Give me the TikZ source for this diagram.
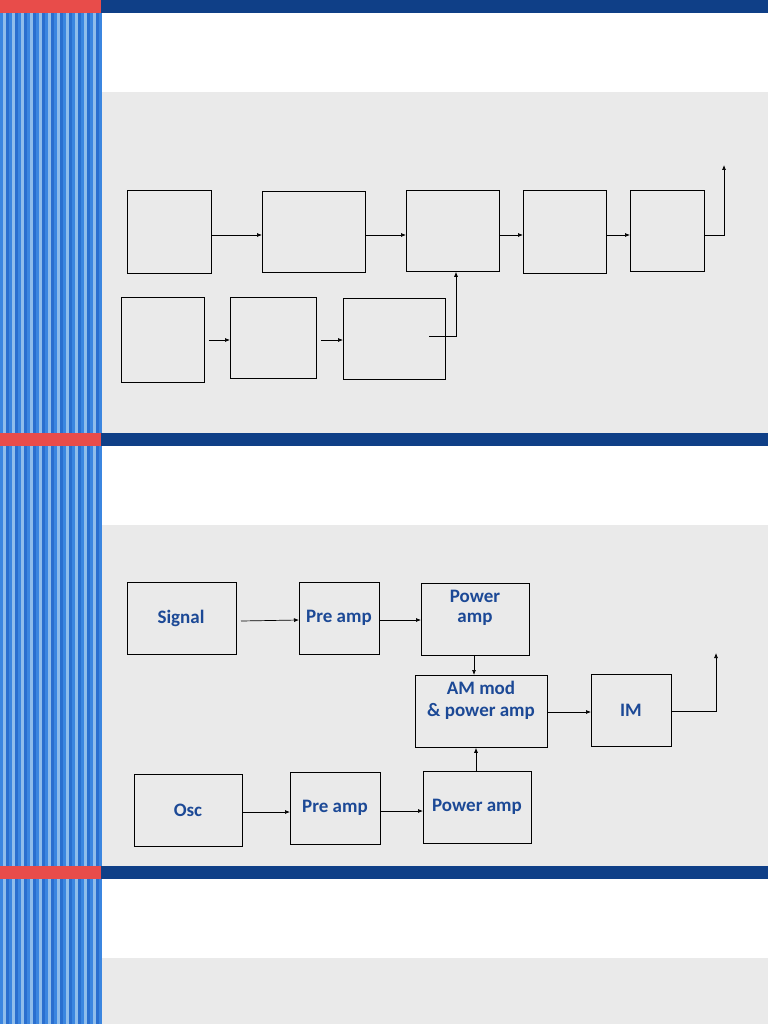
\documentclass[tikz,border=0pt]{standalone}
\usepackage{fontspec}
\setmainfont{Carlito}
\usetikzlibrary{arrows.meta}
\definecolor{barblue}{HTML}{0F3F87}
\definecolor{barred}{HTML}{E84C4A}
\definecolor{panel}{HTML}{EAEAEA}
\definecolor{txtblue}{HTML}{1C4996}
\definecolor{sa}{HTML}{3B86E0}
\definecolor{sb}{HTML}{8FBDEB}
\definecolor{sc}{HTML}{2A6FCF}
\tikzset{blk/.style={draw=black,line width=0.8pt,anchor=north west},
 lbl/.style={text=txtblue,font=\fontsize{19}{22}\selectfont\bfseries,align=center,inner sep=0pt},
 arr/.style={-{Latex[length=5pt,width=4pt]},line width=0.7pt}}
\begin{document}
\begin{tikzpicture}[x=1pt,y=-1pt]
\useasboundingbox (0,0) rectangle (768,1024);
\fill[white] (0,0) rectangle (768,1024);
\foreach \t/\g/\e in {0/92/433,433/525/866,866/958/1024}{
  \fill[panel] (101,\g) rectangle (768,\e);
  \fill[barblue] (101,\t) rectangle (768,\t+13);
  \fill[barred] (0,\t) rectangle (101,\t+13);
}
\foreach \i in {0,...,33}{
  \pgfmathtruncatemacro{\m}{mod(\i,3)}
  \ifnum\m=0 \def\c{sa}\fi \ifnum\m=1 \def\c{sb}\fi \ifnum\m=2 \def\c{sc}\fi
  \foreach \t/\e in {13/433,446/866,879/1024}{
    \fill[\c] (3*\i,\t) rectangle (3*\i+3,\e);}
}
% slide 1
\node[blk,minimum width=84,minimum height=83] (a) at (127,190) {};
\node[blk,minimum width=103,minimum height=81] (b) at (262,191) {};
\node[blk,minimum width=93,minimum height=81] (c) at (406,190) {};
\node[blk,minimum width=83,minimum height=83] (d) at (523,190) {};
\node[blk,minimum width=74,minimum height=81] (e) at (630,190) {};
\node[blk,minimum width=83,minimum height=85] (f) at (121,297) {};
\node[blk,minimum width=86,minimum height=81] (g) at (230,297) {};
\node[blk,minimum width=102,minimum height=81] (h) at (343,298) {};
\draw[arr] (a.east |- 0,235) -- (b.west |- 0,235);
\draw[arr] (b.east |- 0,235) -- (c.west |- 0,235);
\draw[arr] (c.east |- 0,235) -- (d.west |- 0,235);
\draw[arr] (d.east |- 0,235) -- (e.west |- 0,235);
\coordinate (eo) at (724,165);
\draw[arr] (e.east |- 0,235) -| (eo);
\draw[arr] (f.east |- 0,340) ++(4,0) -- (g.west |- 0,340);
\draw[arr] (g.east |- 0,340) ++(4,0) -- (h.west |- 0,340);
\coordinate (hs) at (429,336);
\draw[arr] (hs) -| (c.south -| 456,0);
% slide 2
\node[blk,minimum width=109,minimum height=72] (sig) at (127,582) {};
\node[blk,minimum width=80,minimum height=72] (pa1) at (299,582) {};
\node[blk,minimum width=108,minimum height=72] (pw1) at (421,583) {};
\node[blk,minimum width=132,minimum height=72] (am) at (415,675) {};
\node[blk,minimum width=80,minimum height=72] (im) at (591,674) {};
\node[blk,minimum width=108,minimum height=72] (osc) at (134,774) {};
\node[blk,minimum width=90,minimum height=72] (pa2) at (290,772) {};
\node[blk,minimum width=108,minimum height=72] (pw2) at (423,771) {};
\node[lbl] (tsig) at (181,618) {Signal};
\node[lbl] (tpa1) at (339,618) {Pre amp};
\node[lbl] (tpw1a) at (475,596) {Power};
\node[lbl] (tpw1b) at (475,619) {amp};
\node[lbl] (tama) at (481,688) {AM mod};
\node[lbl] (tamb) at (481,711) {\& power amp};
\node[lbl] (tim) at (631,710) {IM};
\node[lbl] (tosc) at (188,810) {Osc};
\node[lbl] (tpa2) at (335,808) {Pre amp};
\node[lbl] (tpw2) at (477,807) {Power amp};
\draw[arr] (241,621) -- (pa1.west |- 0,620);
\draw[arr] (pa1.east |- 0,620) -- (pw1.west |- 0,620);
\draw[arr] (pw1.south -| 474,0) -- (am.north -| 474,0);
\draw[arr] (am.east |- 0,712) -- (im.west |- 0,712);
\coordinate (io) at (716,653);
\draw[arr] (im.east |- 0,711) -| (io);
\draw[arr] (osc.east |- 0,812) -- (pa2.west |- 0,812);
\draw[arr] (pa2.east |- 0,811) -- (pw2.west |- 0,811);
\draw[arr] (pw2.north -| 476,0) -- (am.south -| 476,0);
\end{tikzpicture}
\end{document}
